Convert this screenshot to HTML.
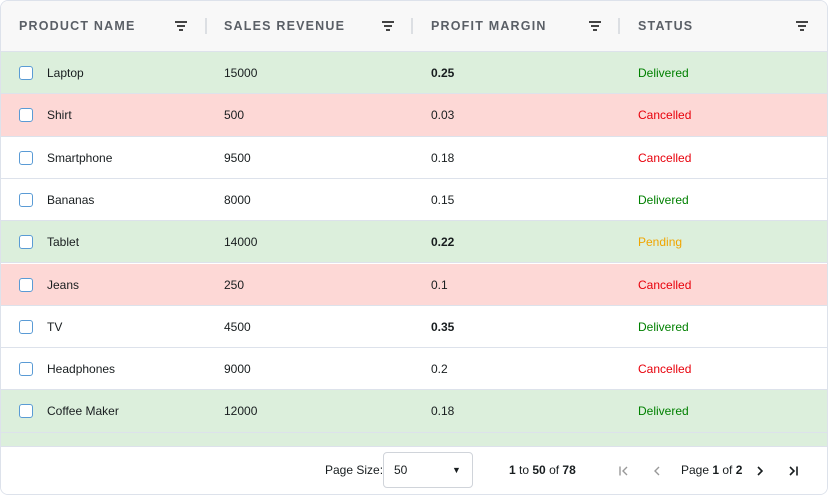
<!DOCTYPE html><html><head><style>
*{box-sizing:border-box}body{margin:0;width:828px;height:495px;background:#fff;font-family:"Liberation Sans",sans-serif;overflow:hidden}
.g{position:absolute;left:0;top:0;width:828px;height:495px;border:1px solid #dde2eb;border-radius:8px;overflow:hidden;background:#fff}
.in{position:absolute;left:-1px;top:0;width:828px;height:495px}
.h{position:absolute;left:0;top:0;width:100%;height:51px;background:#f8f8f8;border-bottom:1px solid #dde2eb}
.hc{position:absolute;top:0;height:50px;line-height:50px;font-size:12.5px;font-weight:bold;letter-spacing:1.2px;color:#5a5f66}
.sep{position:absolute;top:17px;width:2px;height:16px;background:#dcdfe3}
.fi{position:absolute;top:20px;width:12px}
.fi i{display:block;height:1.6px;background:#444;margin:0 auto 2.6px}
.r{position:absolute;left:0;width:100%;height:42.3px;border-bottom:1px solid #dde2eb;font-size:12px;color:#181d1f}
.r span{position:absolute;top:0;line-height:42px}
.cb{position:absolute;left:19px;top:14px;width:14px;height:14px;border:1.5px solid #5a9bd5;border-radius:3px;background:#fff}
.G{background:#dcefdc}.R{background:#fdd8d6}
.f{position:absolute;left:0;top:445px;width:100%;height:49px;border-top:1px solid #dde2eb;background:#fff;font-size:12px;color:#181d1f}
.f span{position:absolute;top:0;line-height:47px}
.f svg{position:absolute;top:18px}
</style></head><body><div class="g"><div class="in">
<div class="h">
<div class="hc" style="left:19px">PRODUCT NAME</div><div class="fi" style="left:175px"><i style="width:12px"></i><i style="width:8px"></i><i style="width:4px"></i></div><div class="sep" style="left:205px"></div>
<div class="hc" style="left:224px">SALES REVENUE</div><div class="fi" style="left:382px"><i style="width:12px"></i><i style="width:8px"></i><i style="width:4px"></i></div><div class="sep" style="left:411px"></div>
<div class="hc" style="left:431px">PROFIT MARGIN</div><div class="fi" style="left:589px"><i style="width:12px"></i><i style="width:8px"></i><i style="width:4px"></i></div><div class="sep" style="left:618px"></div>
<div class="hc" style="left:638px">STATUS</div><div class="fi" style="left:796px"><i style="width:12px"></i><i style="width:8px"></i><i style="width:4px"></i></div>
</div>
<div class="r G" style="top:51px"><div class="cb"></div><span style="left:47px">Laptop</span><span style="left:224px">15000</span><span style="left:431px;font-weight:bold">0.25</span><span style="left:638px;color:#008000">Delivered</span></div>
<div class="r R" style="top:93.3px"><div class="cb"></div><span style="left:47px">Shirt</span><span style="left:224px">500</span><span style="left:431px">0.03</span><span style="left:638px;color:#e8000b">Cancelled</span></div>
<div class="r" style="top:135.6px"><div class="cb"></div><span style="left:47px">Smartphone</span><span style="left:224px">9500</span><span style="left:431px">0.18</span><span style="left:638px;color:#e8000b">Cancelled</span></div>
<div class="r" style="top:177.9px"><div class="cb"></div><span style="left:47px">Bananas</span><span style="left:224px">8000</span><span style="left:431px">0.15</span><span style="left:638px;color:#008000">Delivered</span></div>
<div class="r G" style="top:220.2px"><div class="cb"></div><span style="left:47px">Tablet</span><span style="left:224px">14000</span><span style="left:431px;font-weight:bold">0.22</span><span style="left:638px;color:#f0a500">Pending</span></div>
<div class="r R" style="top:262.5px"><div class="cb"></div><span style="left:47px">Jeans</span><span style="left:224px">250</span><span style="left:431px">0.1</span><span style="left:638px;color:#e8000b">Cancelled</span></div>
<div class="r" style="top:304.8px"><div class="cb"></div><span style="left:47px">TV</span><span style="left:224px">4500</span><span style="left:431px;font-weight:bold">0.35</span><span style="left:638px;color:#008000">Delivered</span></div>
<div class="r" style="top:347.1px"><div class="cb"></div><span style="left:47px">Headphones</span><span style="left:224px">9000</span><span style="left:431px">0.2</span><span style="left:638px;color:#e8000b">Cancelled</span></div>
<div class="r G" style="top:389.4px"><div class="cb"></div><span style="left:47px">Coffee Maker</span><span style="left:224px">12000</span><span style="left:431px">0.18</span><span style="left:638px;color:#008000">Delivered</span></div>
<div class="r G" style="top:431.7px"></div>
<div class="f">
<span style="left:325px">Page Size:</span>
<div style="position:absolute;left:383px;top:5px;width:90px;height:36px;border:1px solid #d0d4da;border-radius:4px"><span style="left:10px;line-height:34px">50</span><span style="left:68px;line-height:34px;font-size:9px">&#9660;</span></div>
<span style="left:509px"><b>1</b> to <b>50</b> of <b>78</b></span>
<svg style="left:618px" width="12" height="12" viewBox="0 0 12 12"><path d="M2 1.5V10.5M9 2L5 6L9 10" stroke="#999" stroke-width="1.4" fill="none"/></svg>
<svg style="left:651px" width="12" height="12" viewBox="0 0 12 12"><path d="M8 2L4 6L8 10" stroke="#999" stroke-width="1.4" fill="none"/></svg>
<span style="left:681px">Page <b>1</b> of <b>2</b></span>
<svg style="left:754px" width="12" height="12" viewBox="0 0 12 12"><path d="M4 2L8 6L4 10" stroke="#181d1f" stroke-width="1.6" fill="none"/></svg>
<svg style="left:787px" width="12" height="12" viewBox="0 0 12 12"><path d="M3 2L7 6L3 10M10 1.5V10.5" stroke="#181d1f" stroke-width="1.6" fill="none"/></svg>
</div>
</div></div></body></html>
